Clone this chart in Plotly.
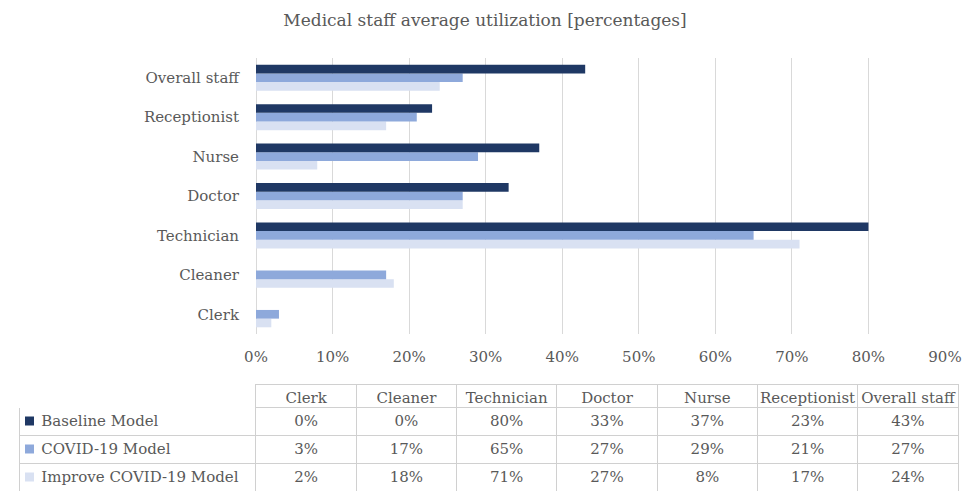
import plotly.graph_objects as go

categories = ["Clerk", "Cleaner", "Technician", "Doctor", "Nurse", "Receptionist", "Overall staff"]
series_names = ["Baseline Model", "COVID-19 Model", "Improve COVID-19 Model"]
baseline = [0, 0, 80, 33, 37, 23, 43]
covid = [3, 17, 65, 27, 29, 21, 27]
improve = [2, 18, 71, 27, 8, 17, 24]
colors = ["#1F3864", "#8EA9DB", "#D9E1F2"]
x_ticks = [0, 10, 20, 30, 40, 50, 60, 70, 80, 90]

W, H = 970, 492
FONT = "DejaVu Serif"
GREY = "#595959"
GRID = "#D9D9D9"
TGRID = "#D0D0D0"
NB = "\u00a0"

series_values = [baseline, covid, improve]

fig = go.Figure()
# add in reverse so Baseline is drawn at the top of each group
for name, vals, col in reversed(list(zip(series_names, series_values, colors))):
    fig.add_trace(go.Bar(
        y=categories, x=vals, name=name, orientation="h",
        marker=dict(color=col, line=dict(width=0)),
        showlegend=False, hoverinfo="x+y",
    ))

# ---- data table (acts as legend) ----
TBL_LEFT, TBL_RIGHT, TBL_TOP = 19, 958, 384
HEAD_H, ROW_H = 23, 28
label_cells = [NB * 3 + n.replace(" ", NB) for n in series_names]
cols = [label_cells]
for i in range(len(categories)):
    cols.append([f"{s[i]}%" for s in series_values])

fig.add_trace(go.Table(
    domain=dict(x=[TBL_LEFT / W, TBL_RIGHT / W], y=[0, 1 - TBL_TOP / H]),
    columnwidth=[237] + [100.3] * len(categories),
    header=dict(
        values=[""] + [c.replace(" ", NB) for c in categories],
        height=HEAD_H,
        align="center",
        font=dict(family=FONT, size=15, color=GREY),
        fill=dict(color="white"),
        line=dict(color=["white"] + [TGRID] * len(categories), width=1),
    ),
    cells=dict(
        values=cols,
        height=ROW_H,
        align=["left"] + ["center"] * len(categories),
        font=dict(family=FONT, size=15, color=GREY),
        fill=dict(color="white"),
        line=dict(color=TGRID, width=1),
    ),
))

# legend keys inside the table's first column
shapes = []
for k, col in enumerate(colors):
    yc = TBL_TOP + HEAD_H + ROW_H * k + ROW_H / 2
    shapes.append(dict(type="rect", xref="paper", yref="paper",
                       x0=25 / W, x1=34 / W,
                       y0=1 - (yc + 4.5) / H, y1=1 - (yc - 4.5) / H,
                       fillcolor=col, line=dict(width=0), layer="above"))

fig.update_layout(
    width=W, height=H, autosize=False,
    margin=dict(l=0, r=0, t=0, b=0, autoexpand=False),
    paper_bgcolor="white", plot_bgcolor="white",
    barmode="group", bargap=0.34, bargroupgap=0,
    font=dict(family=FONT, size=15, color=GREY),
    title=dict(text="Medical staff average utilization [percentages]",
               x=0.5, xanchor="center", y=1 - 20 / H, yanchor="middle",
               font=dict(family=FONT, size=17, color=GREY)),
    xaxis=dict(domain=[256 / W, 945 / W], range=[0, 90], automargin=False,
               tickvals=x_ticks, ticktext=[f"{v}%" for v in x_ticks],
               showgrid=True, gridcolor=GRID, gridwidth=1,
               zeroline=True, zerolinecolor=GRID, zerolinewidth=1,
               showline=False, ticks="", ticklabelstandoff=12,
               tickfont=dict(family=FONT, size=15, color=GREY), fixedrange=True),
    yaxis=dict(domain=[1 - 334 / H, 1 - 58 / H], automargin=False,
               categoryorder="array", categoryarray=categories,
               showgrid=False, zeroline=False, showline=False, ticks="",
               ticklabelstandoff=16,
               tickfont=dict(family=FONT, size=15, color=GREY), fixedrange=True),
    shapes=shapes,
)

fig.write_html("out.html", config={"responsive": False, "displayModeBar": False},
               post_script="document.body.style.margin='0';document.body.style.overflow='hidden';")
